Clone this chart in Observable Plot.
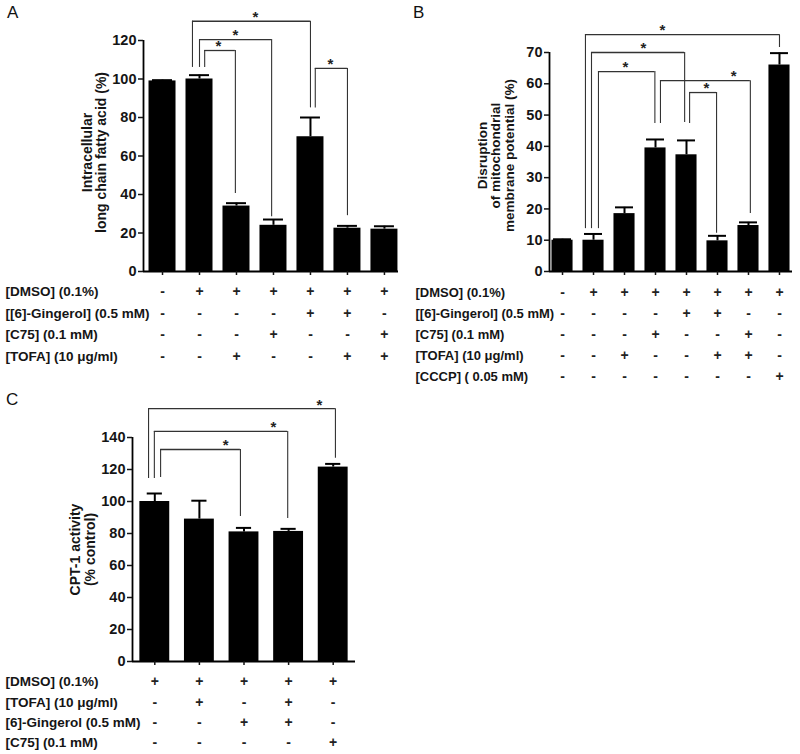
<!DOCTYPE html>
<html>
<head>
<meta charset="utf-8">
<script src="https://cdn.jsdelivr.net/npm/d3@7"></script>
<script src="https://cdn.jsdelivr.net/npm/@observablehq/plot@0.6"></script>
<style>
  html, body { margin: 0; padding: 0; background: #fff; }
  #root { position: relative; width: 800px; height: 754px; overflow: hidden; font-family: 'Liberation Sans', Arial, sans-serif; }
  .panel { position: absolute; }
  .letter { position: absolute; font-size: 17px; line-height: 17px; color: #111; font-family: 'Liberation Sans', Arial, sans-serif; }
</style>
</head>
<body>
<div id="root">
  <div class="panel" id="pa" style="left:0px;top:0px"></div>
  <div class="panel" id="pb" style="left:400px;top:0px"></div>
  <div class="panel" id="pc" style="left:0px;top:380px"></div>
  <div class="letter" style="left:7px;top:4px">A</div>
  <div class="letter" style="left:413px;top:4px">B</div>
  <div class="letter" style="left:6px;top:391px">C</div>
</div>
<script>
// ---------- Panel A data ----------
const titleA = "Intracellular\nlong chain fatty acid (%)";
const rowLabelsA = ["[DMSO] (0.1%)", "[[6]-Gingerol] (0.5 mM)", "[C75] (0.1 mM)", "[TOFA] (10 \u03bcg/ml)"];
const dmsoA     = ["-", "+", "+", "+", "+", "+", "+"];
const gingerolA = ["-", "-", "-", "-", "+", "+", "-"];
const c75A      = ["-", "-", "-", "+", "-", "-", "+"];
const tofaA     = ["-", "-", "+", "-", "-", "+", "+"];
const meanA = [99, 100, 34, 24, 70, 22.5, 22];
const errA  = [0.4, 2, 1.5, 3, 10, 1.2, 1.5];
const yTicksA = [0, 20, 40, 60, 80, 100, 120];
// brackets: [left x, right x, bar height, left leg end, right leg end, asterisk x]
const bracketsA = [
  [1.81, 5.0, 130, 106, 85, 3.51],
  [2.0, 3.95, 120.5, 106, 28.5, 2.97],
  [2.14, 2.97, 114.8, 106, 40.5, 2.51],
  [5.13, 6.0, 105.5, 85, 29, 5.54]
];

// ---------- Panel B data ----------
const titleB = "Disruption\nof mitochondrial\nmembrane potential (%)";
const rowLabelsB = ["[DMSO] (0.1%)", "[[6]-Gingerol] (0.5 mM)", "[C75] (0.1 mM)", "[TOFA] (10 \u03bcg/ml)", "[CCCP] ( 0.05 mM)"];
const dmsoB     = ["-", "+", "+", "+", "+", "+", "+", "+"];
const gingerolB = ["-", "-", "-", "-", "+", "+", "-", "-"];
const c75B      = ["-", "-", "-", "+", "-", "-", "+", "-"];
const tofaB     = ["-", "-", "+", "-", "-", "+", "+", "-"];
const cccpB     = ["-", "-", "-", "-", "-", "-", "-", "+"];
const meanB = [10, 10, 18.5, 39.5, 37.3, 9.8, 14.7, 66];
const errB  = [0.3, 2, 2, 2.7, 4.6, 1.6, 1, 3.8];
const yTicksB = [0, 10, 20, 30, 40, 50, 60, 70];
const bracketsB = [
  [1.74, 8.0, 75.7, 13.7, 71.6, 4.22],
  [1.935, 4.94, 70, 13.7, 47.6, 3.61],
  [2.16, 3.98, 63.9, 13.7, 47.3, 3.03],
  [4.16, 7.06, 61, 47.3, 18.5, 6.52],
  [5.1, 5.97, 57.2, 47.3, 12.2, 5.64]
];

// ---------- Panel C data ----------
const titleC = "CPT-1 activity\n(% control)";
const rowLabelsC = ["[DMSO] (0.1%)", "[TOFA] (10 \u03bcg/ml)", "[6]-Gingerol (0.5 mM)", "[C75] (0.1 mM)"];
const dmsoC     = ["+", "+", "+", "+", "+"];
const tofaC     = ["-", "+", "-", "+", "-"];
const gingerolC = ["-", "-", "+", "+", "-"];
const c75C      = ["-", "-", "-", "-", "+"];
const meanC = [100, 89, 81, 81.3, 121.5];
const errC  = [5, 11.5, 2.5, 1.6, 2];
const yTicksC = [0, 20, 40, 60, 80, 100, 120, 140];
const bracketsC = [
  [0.86, 5.05, 158, 114.4, 127, 4.69],
  [0.99, 3.98, 143.8, 114.4, 89.4, 3.66],
  [1.13, 2.92, 132.5, 115, 90.6, 2.59]
];

const FONT = "'Liberation Sans', Arial, sans-serif";
const INK = "#151515";

function panel(cfg) {
  const data = cfg.mean.map((v, k) => ({i: k + 1, v, e: cfg.err[k]}));
  const br = cfg.brackets.map(([x1, x2, y, l, r, s]) => ({x1, x2, y, l, r, s}));
  const table = cfg.rows;
  const hw = cfg.barHalf, cap = cfg.cap;
  const yMax = cfg.yTicks[cfg.yTicks.length - 1];
  return Plot.plot({
    width: cfg.width, height: cfg.height,
    marginLeft: cfg.ml, marginRight: cfg.mr, marginTop: cfg.mt, marginBottom: cfg.mb,
    x: {type: "linear", domain: cfg.xDomain},
    y: {type: "linear", domain: [0, yMax]},
    style: {fontFamily: FONT, fontSize: "14px", fontWeight: "bold", color: INK, background: "transparent", overflow: "visible"},
    marks: [
      Plot.rect(data, {x1: d => d.i - hw, x2: d => d.i + hw, y1: 0, y2: "v", fill: "#000"}),
      Plot.ruleX(data, {x: "i", y1: "v", y2: d => d.v + d.e, stroke: "#000", strokeWidth: 2}),
      Plot.ruleY(data, {y: d => d.v + d.e, x1: d => d.i - cap, x2: d => d.i + cap, stroke: "#000", strokeWidth: 2}),
      // significance brackets
      Plot.ruleY(br, {y: "y", x1: "x1", x2: "x2", stroke: "#333", strokeWidth: 1.3}),
      Plot.ruleX(br, {x: "x1", y1: "y", y2: "l", stroke: "#333", strokeWidth: 1.1}),
      Plot.ruleX(br, {x: "x2", y1: "y", y2: "r", stroke: "#333", strokeWidth: 1.1}),
      Plot.text(br, {x: "s", y: "y", text: () => "*", fontSize: 15, fontWeight: "bold", fill: "#222", lineAnchor: "middle", dy: -4}),
      // axes
      Plot.ruleY([0], {stroke: "#000", strokeWidth: 1.8}),
      Plot.ruleX([cfg.xDomain[0]], {y1: 0, y2: yMax, stroke: "#000", strokeWidth: 1.8}),
      Plot.axisY({ticks: cfg.yTicks, tickSize: 5, tickPadding: 2, label: null, strokeWidth: 1.5, fill: INK, fontSize: 14.5}),
      Plot.axisX({
        ticks: data.map(d => d.i), tickSize: 4, tickPadding: cfg.tp, label: null, strokeWidth: 1.5,
        tickFormat: i => table.map(r => r[i - 1]).join("\n"), lineHeight: cfg.lh, fill: "#222"
      }),
      // row labels of the treatment table
      Plot.text([cfg.rowLabels.join("\n")], {text: d => d, frameAnchor: "bottom-left", textAnchor: "start", lineAnchor: "top", lineHeight: cfg.lh * 14 / cfg.rfs, fontSize: cfg.rfs, dx: cfg.labelX - cfg.ml, dy: cfg.tp + 4, fill: INK}),
      // y axis title
      Plot.text([cfg.title], {text: d => d, frameAnchor: "left", rotate: -90, textAnchor: "middle", lineAnchor: "middle", lineHeight: cfg.tlh, fontSize: cfg.tfs, dx: cfg.tdx, dy: cfg.tdy, fill: INK})
    ]
  });
}

document.getElementById("pa").appendChild(panel({
  mean: meanA, err: errA, brackets: bracketsA, rows: [dmsoA, gingerolA, c75A, tofaA], rowLabels: rowLabelsA,
  yTicks: yTicksA, title: titleA,
  width: 400, height: 370, ml: 143, mr: 2, mt: 40, mb: 99, xDomain: [0.486, 7.38],
  barHalf: 0.365, cap: 0.27, tp: 5, lh: 1.55, labelX: 5, rfs: 13.5,
  tfs: 14, tlh: 1.0, tdx: -49, tdy: -3.5
}));

document.getElementById("pb").appendChild(panel({
  mean: meanB, err: errB, brackets: bracketsB, rows: [dmsoB, gingerolB, c75B, tofaB, cccpB], rowLabels: rowLabelsB,
  yTicks: yTicksB, title: titleB,
  width: 400, height: 390, ml: 149, mr: 8, mt: 52, mb: 119, xDomain: [0.58, 8.42],
  barHalf: 0.34, cap: 0.29, tp: 6, lh: 1.51, labelX: 15, rfs: 13,
  tfs: 13.5, tlh: 1.0, tdx: -53.5, tdy: -6.5
}));

document.getElementById("pc").appendChild(panel({
  mean: meanC, err: errC, brackets: bracketsC, rows: [dmsoC, tofaC, gingerolC, c75C], rowLabels: rowLabelsC,
  yTicks: yTicksC, title: titleC,
  width: 400, height: 374, ml: 132, mr: 45, mt: 57, mb: 93, xDomain: [0.5, 5.5],
  barHalf: 0.335, cap: 0.17, tp: 6.5, lh: 1.45, labelX: 5, rfs: 13.5,
  tfs: 14, tlh: 1.05, tdx: -49.5, tdy: 0
}));
</script>
</body>
</html>
